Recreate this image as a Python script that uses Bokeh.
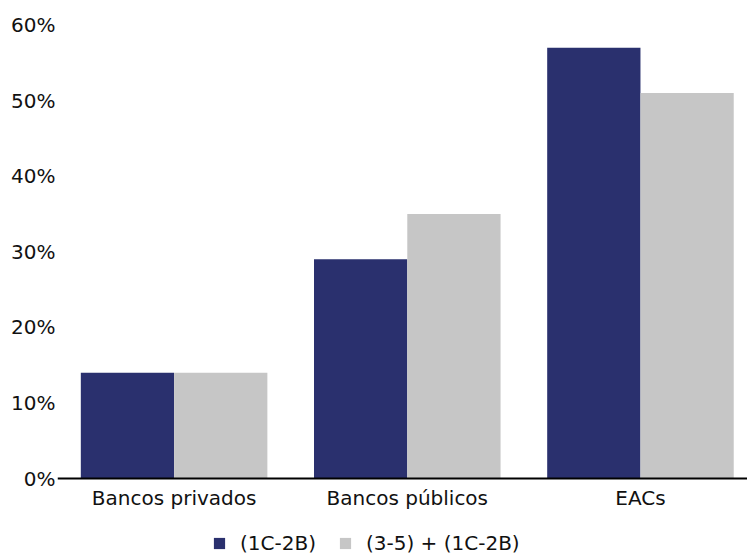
from bokeh.plotting import figure
from bokeh.models import (Range1d, FixedTicker, NumeralTickFormatter, Legend,
                          LegendItem, Span, ColumnDataSource)
from bokeh.core.properties import value
from bokeh.embed import file_html
from bokeh.resources import INLINE

# Share of each institution type, by rating bucket
categories = ["Bancos privados", "Bancos públicos", "EACs"]
series_names = ["(1C-2B)", "(3-5) + (1C-2B)"]
series_1c2b = [0.14, 0.29, 0.57]
series_3_5 = [0.14, 0.35, 0.51]
y_ticks = [0.0, 0.1, 0.2, 0.3, 0.4, 0.5, 0.6]

DARK = "#2A306E"
GRAY = "#C6C6C6"
FONT = "DejaVu Sans"
BAR_W = 0.4

W, H = 747, 556
TOP, LEFT = 17, 57
Y_MAX = 0.61
AXIS_PX = 478                      # pixel row of the zero line
PX_PER_UNIT = (AXIS_PX - TOP) / Y_MAX
Y_MIN = -(H - AXIS_PX) / PX_PER_UNIT   # room under zero for labels and legend

idx = list(range(len(categories)))
x_left = [i - BAR_W / 2 for i in idx]
x_right = [i + BAR_W / 2 for i in idx]

p = figure(width=W, height=H, output_backend="svg", toolbar_location=None,
           x_range=Range1d(-0.5, 2.459), y_range=Range1d(Y_MIN, Y_MAX),
           min_border_left=LEFT, min_border_right=0, min_border_top=TOP,
           min_border_bottom=0)
p.outline_line_color = None
p.xgrid.visible = False
p.ygrid.visible = False
p.xaxis.visible = False

r1 = p.vbar(x=x_left, top=series_1c2b, bottom=0, width=BAR_W,
            fill_color=DARK, line_color=None)
r2 = p.vbar(x=x_right, top=series_3_5, bottom=0, width=BAR_W,
            fill_color=GRAY, line_color=None)

# zero baseline
p.add_layout(Span(location=0, dimension="width", line_color="black", line_width=2))

# category names under each group
label_y = -19 / PX_PER_UNIT
p.text(x=idx, y=[label_y] * len(idx), text=categories,
       text_font=value(FONT), text_font_size="20px", text_color="#111111",
       text_align="center", text_baseline="middle")

# y axis: percentages only, no line or ticks
ya = p.yaxis[0]
ya.ticker = FixedTicker(ticks=y_ticks)
ya.formatter = NumeralTickFormatter(format="0%")
ya.axis_line_color = None
ya.major_tick_line_color = None
ya.minor_tick_line_color = None
ya.major_tick_out = 0
ya.major_tick_in = 0
ya.major_label_text_font = FONT
ya.major_label_text_font_size = "20px"
ya.major_label_text_color = "#111111"
ya.major_label_standoff = 2

legend = Legend(items=[LegendItem(label=series_names[0], renderers=[r1]),
                       LegendItem(label=series_names[1], renderers=[r2])],
                orientation="horizontal", location=(155, 1),
                border_line_color=None, background_fill_alpha=0,
                label_text_font=FONT, label_text_font_size="20px",
                label_text_color="#111111",
                glyph_width=14, glyph_height=14, label_standoff=14,
                spacing=22, padding=0, margin=0)
p.add_layout(legend, "center")

open("out.html", "w").write(file_html(p, INLINE))
